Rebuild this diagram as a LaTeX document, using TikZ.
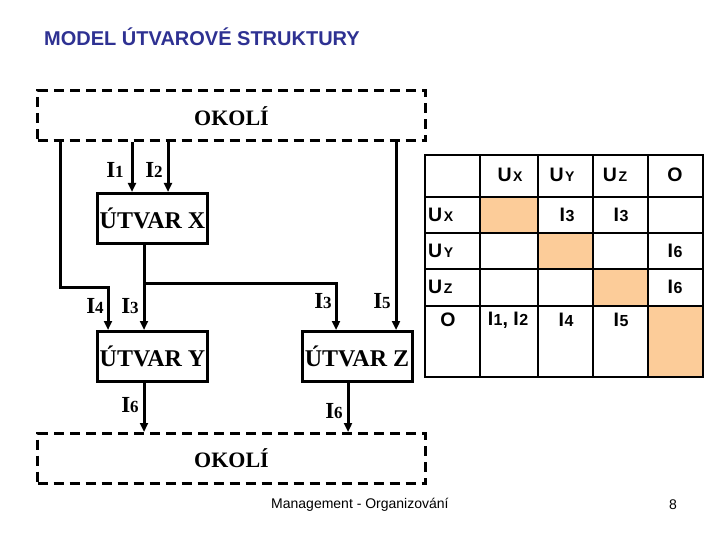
\documentclass[tikz,border=0pt]{standalone}
\usepackage{fontspec}
\setmainfont{Liberation Serif}
\newfontfamily\arialf{Liberation Sans}
\usetikzlibrary{arrows.meta}
\definecolor{titleblue}{RGB}{46,49,146}
\definecolor{peach}{RGB}{252,204,153}
\newcommand\Ilab[1]{I{\fontsize{17}{17}\selectfont #1}}
\newcommand\Tsub[2]{#1\kern1.5pt{\fontsize{14}{14}\selectfont #2}}
\newcommand\Tnum[1]{I\kern0.5pt{\fontsize{16}{16}\selectfont #1}}
\begin{document}
\begin{tikzpicture}[x=1pt,y=-1pt,
 box/.style={draw,line width=3pt,inner sep=0pt,minimum width=110pt,minimum height=50pt,font=\bfseries\fontsize{24}{24}\selectfont},
 env/.style={draw,line width=3pt,dash pattern=on 10pt off 6pt,inner sep=0pt,minimum width=388pt,minimum height=50pt,font=\bfseries\fontsize{22}{22}\selectfont},
 arr/.style={line width=3pt,-{Triangle[length=9pt,width=8pt]}},
 lab/.style={font=\bfseries\fontsize{23}{23}\selectfont,inner sep=0pt},
 tab/.style={font=\arialf\bfseries\fontsize{19.5}{19.5}\selectfont,inner sep=0pt},
 grid/.style={line width=2pt},
]
\useasboundingbox (0,0) rectangle (720,540);

% title and footer
\node[font=\arialf\bfseries\fontsize{20}{20}\selectfont,text=titleblue,anchor=west,inner sep=0pt] (title) at (44,37) {MODEL ÚTVAROVÉ STRUKTURY};
\node[font=\arialf\fontsize{14}{14}\selectfont,anchor=west,inner sep=0pt] (foot) at (271,505) {Management - Organizování};
\node[font=\arialf\fontsize{14}{14}\selectfont,inner sep=0pt] (page) at (673,505) {8};

% boxes
\node[env] (okt) at (231.5,116) {OKOLÍ};
\node[env] (okb) at (231.5,458.5) {OKOLÍ};
\node[box] (X) at (152.5,218.5) {ÚTVAR X};
\node[box] (Y) at (152.5,356.5) {ÚTVAR Y};
\node[box] (Z) at (357,356.5) {ÚTVAR Z};

% helper coordinates
\coordinate (a1) at (60,287);
\coordinate (a2) at (108,287);
\coordinate (i1) at (132,0);
\coordinate (i2) at (168,0);
\coordinate (r) at (396,0);
\coordinate (m) at (144,283);
\coordinate (b) at (336,283);
\coordinate (z6) at (348,0);

% connectors
\draw[arr] (okt.south -| a1) -- (a1) -- (a2) -- (Y.north -| a2);
\draw[arr] (okt.south -| i1) -- (X.north -| i1);
\draw[arr] (okt.south -| i2) -- (X.north -| i2);
\draw[arr] (okt.south -| r) -- (Z.north -| r);
\draw[arr] (X.south -| m) -- (Y.north -| m);
\draw[arr] (m) -- (b) -- (Z.north -| b);
\draw[arr] (Y.south -| m) -- (okb.north -| m);
\draw[arr] (Z.south -| z6) -- (okb.north -| z6);

% labels
\node[lab] (l1) at (115,170) {\Ilab{1}};
\node[lab] (l2) at (154,170) {\Ilab{2}};
\node[lab] (l4) at (95,306) {\Ilab{4}};
\node[lab] (l3a) at (130,306) {\Ilab{3}};
\node[lab] (l3b) at (323,301) {\Ilab{3}};
\node[lab] (l5) at (382,301) {\Ilab{5}};
\node[lab] (l6a) at (130,405) {\Ilab{6}};
\node[lab] (l6b) at (334,411) {\Ilab{6}};

% table
\fill[peach] (480,197) rectangle (538,233);
\fill[peach] (538,233) rectangle (593,269);
\fill[peach] (593,269) rectangle (648,306);
\fill[peach] (648,306) rectangle (703,377);
\draw[grid] (425,155) rectangle (703,377);
\foreach \yy in {197,233,269,306} \draw[grid] (425,\yy) -- (703,\yy);
\foreach \xx in {480,538,593,648} \draw[grid] (\xx,155) -- (\xx,377);

\node[tab] (h1) at (510,175) {\Tsub{U}{X}};
\node[tab] (h2) at (562,175) {\Tsub{U}{Y}};
\node[tab] (h3) at (615,175) {\Tsub{U}{Z}};
\node[tab] (h4) at (675,175) {O};
\node[tab,anchor=west] (r1) at (428,215) {\Tsub{U}{X}};
\node[tab,anchor=west] (r2) at (428,251) {\Tsub{U}{Y}};
\node[tab,anchor=west] (r3) at (428,287) {\Tsub{U}{Z}};
\node[tab] (r4) at (448,320) {O};
\node[tab] (c13) at (567,215) {\Tnum{3}};
\node[tab] (c14) at (621,215) {\Tnum{3}};
\node[tab] (c25) at (675,251) {\Tnum{6}};
\node[tab] (c35) at (675,287) {\Tnum{6}};
\node[tab] (c41) at (508,320) {\Tnum{1}, \Tnum{2}};
\node[tab] (c43) at (566,320) {\Tnum{4}};
\node[tab] (c44) at (621,320) {\Tnum{5}};
\end{tikzpicture}
\end{document}
